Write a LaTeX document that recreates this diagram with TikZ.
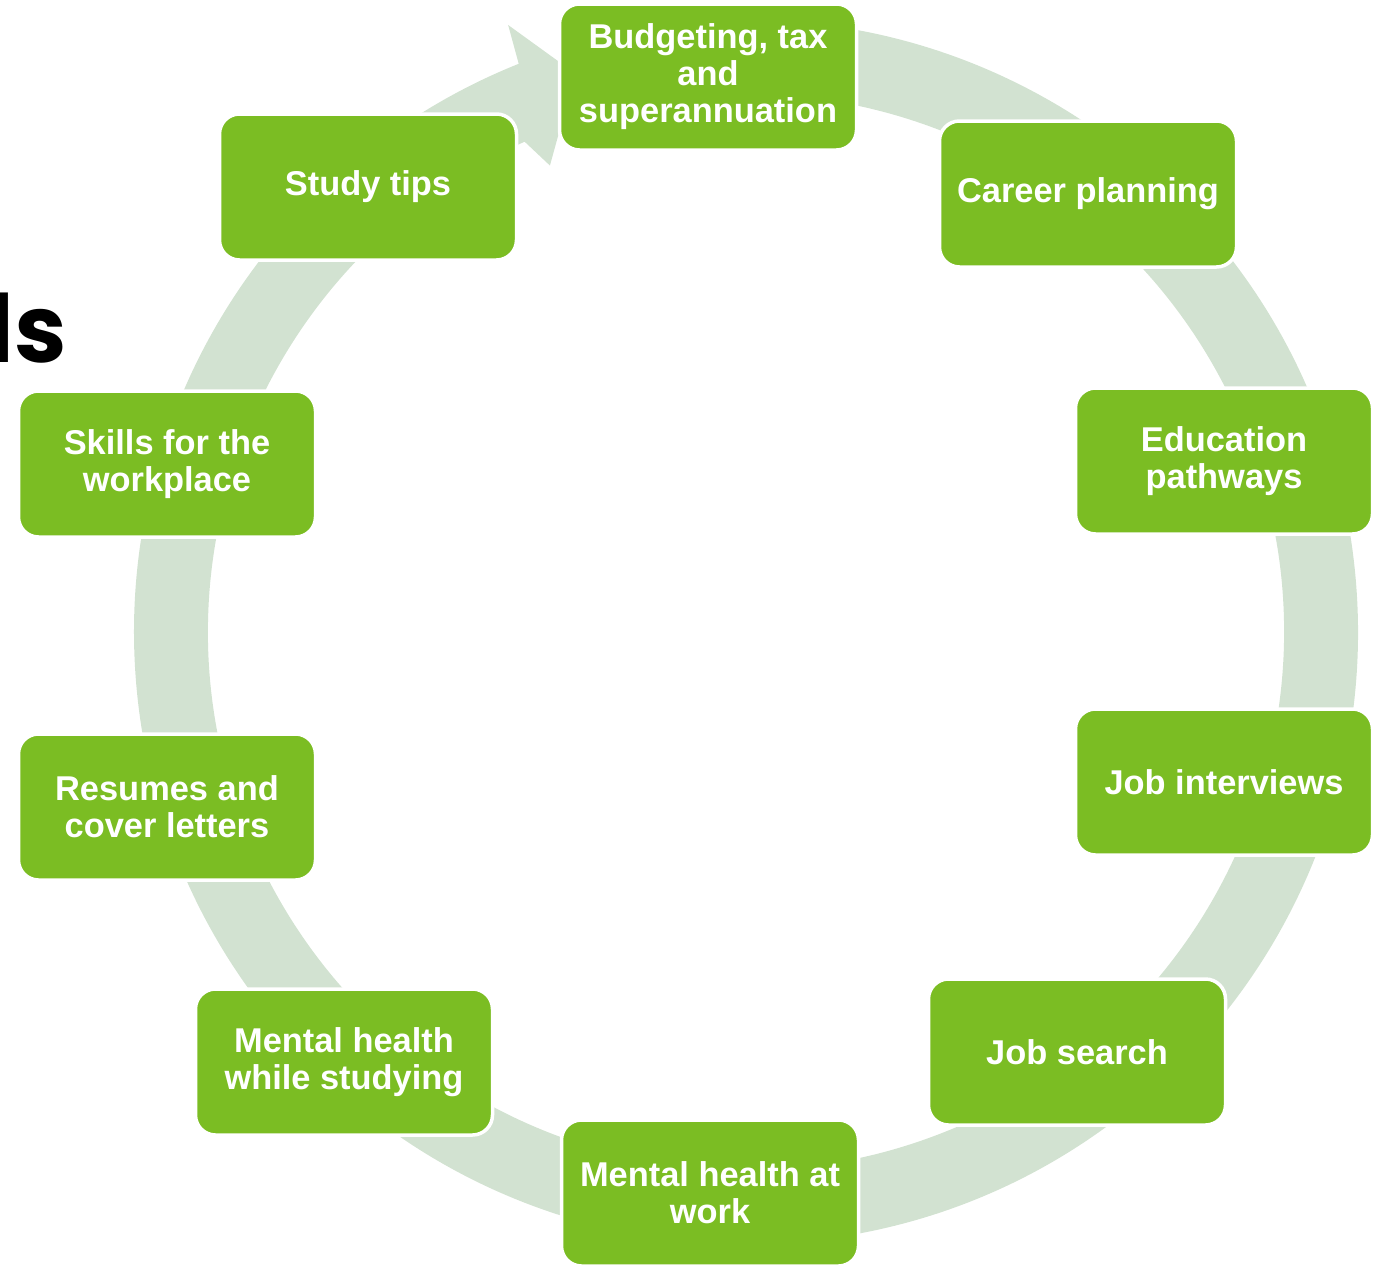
\documentclass[tikz,border=0pt]{standalone}
\usepackage{fontspec}
\setmainfont{Liberation Sans}
\newfontfamily\titlefont{Poppins}
\definecolor{boxgreen}{RGB}{123,189,35}
\definecolor{ringgreen}{RGB}{210,226,209}
\begin{document}
\begin{tikzpicture}[x=1pt,y=1pt,
  topic/.style={draw=white, line width=3.5pt, fill=boxgreen, rounded corners=20pt,
    minimum width=297pt, minimum height=146pt, text=white,
    font=\fontsize{34.4}{37}\selectfont\bfseries, align=center, inner sep=0pt}]
\useasboundingbox (0,0) rectangle (1384,-1266);
\clip (0,0) rectangle (1384,-1266);
% cycle ring with arrow head
\begin{scope}[shift={(746,-632)}]
\fill[ringgreen] (95:612) arc[start angle=95, end angle=-248.2, radius=612]
  -- (111.4:652) -- (107:584) -- (112.8:506) -- (114.3:538)
  arc[start angle=-245.7, end angle=95, radius=538] -- cycle;
\end{scope}
% partial title
\node[font=\titlefont\bfseries\fontsize{94}{94}\selectfont, anchor=base east, inner sep=0pt] (title) at (67,-362) {ls};
% topics
\node[topic] (budget) at (708,-77) {Budgeting, tax\\and\\superannuation};
\node[topic] (career) at (1088,-194) {Career planning};
\node[topic] (edu) at (1224,-461) {Education\\pathways};
\node[topic] (interview) at (1224,-782) {Job interviews};
\node[topic] (search) at (1077,-1052) {Job search};
\node[topic] (mhwork) at (710,-1193) {Mental health at\\work};
\node[topic] (mhstudy) at (344,-1062) {Mental health\\while studying};
\node[topic] (resume) at (167,-807) {Resumes and\\cover letters};
\node[topic] (skills) at (167,-464) {Skills for the\\workplace};
\node[topic] (study) at (368,-187) {Study tips};
\end{tikzpicture}
\end{document}
